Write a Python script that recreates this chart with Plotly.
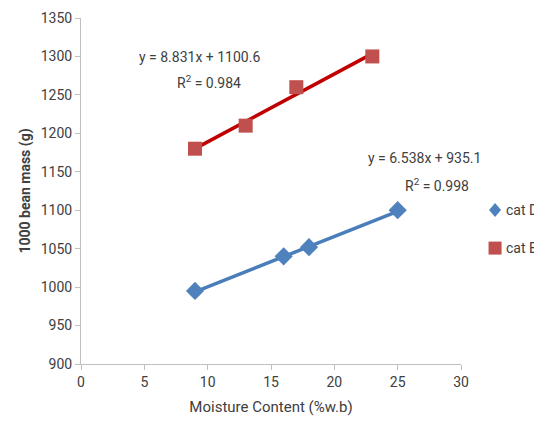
import numpy as np
import plotly.graph_objects as go

# Data
x_D = [9, 16, 18, 25]
y_D = [995, 1040, 1052, 1100]
x_B = [9, 13, 17, 23]
y_B = [1180, 1210, 1260, 1300]

# Trendline coefficients (as shown on chart)
slope_D, intercept_D, r2_D = 6.538, 935.1, 0.998
slope_B, intercept_B, r2_B = 8.831, 1100.6, 0.984

FONT = "Roboto, Noto Sans, sans-serif"
TXT = "#404040"
BLUE = "#4F81BD"
RED = "#C0504D"

fig = go.Figure()

tx_D = np.array([min(x_D), max(x_D)])
tx_B = np.array([min(x_B), max(x_B)])

fig.add_trace(go.Scatter(x=tx_D, y=slope_D * tx_D + intercept_D, mode="lines",
                         line=dict(color="#4A7EBB", width=3.5), showlegend=False, hoverinfo="skip"))
fig.add_trace(go.Scatter(x=tx_B, y=slope_B * tx_B + intercept_B, mode="lines",
                         line=dict(color="#C00000", width=3.5), showlegend=False, hoverinfo="skip"))

fig.add_trace(go.Scatter(x=x_D, y=y_D, mode="markers", name="cat D", showlegend=False,
                         marker=dict(symbol="diamond", size=14, color=BLUE)))
fig.add_trace(go.Scatter(x=x_B, y=y_B, mode="markers", name="cat B", showlegend=False,
                         marker=dict(symbol="square", size=14, color=RED)))

# Trendline equations
fig.add_annotation(x=9.37, y=1299, xref="x", yref="y",
                   text=f"y = {slope_B}x + {intercept_B}", showarrow=False,
                   font=dict(family=FONT, size=14, color=TXT))
fig.add_annotation(x=10.08, y=1267, xref="x", yref="y",
                   text=f"R<sup>2</sup> = {r2_B}", showarrow=False,
                   font=dict(family=FONT, size=14, color=TXT))
fig.add_annotation(x=27.15, y=1168, xref="x", yref="y",
                   text=f"y = {slope_D}x + {intercept_D}", showarrow=False,
                   font=dict(family=FONT, size=14, color=TXT))
fig.add_annotation(x=28.1, y=1133, xref="x", yref="y",
                   text=f"R<sup>2</sup> = {r2_D}", showarrow=False,
                   font=dict(family=FONT, size=14, color=TXT))

# Legend (drawn manually so it does not push the plot margins)
legend_items = [("cat D", BLUE, "diamond", 0.445), ("cat B", RED, "square", 0.335)]
for name, col, sym, ly in legend_items:
    if sym == "diamond":
        path = "M 0 -7 L 6 0 L 0 7 L -6 0 Z"
    else:
        path = "M -6.5 -6.5 L 6.5 -6.5 L 6.5 6.5 L -6.5 6.5 Z"
    fig.add_shape(type="path", xref="paper", yref="paper",
                  xsizemode="pixel", ysizemode="pixel",
                  xanchor=1.0896, yanchor=ly, path=path,
                  fillcolor=col, line=dict(width=0))
    fig.add_annotation(x=1.113, y=ly, xref="paper", yref="paper", xanchor="left",
                       yanchor="middle", text=name, showarrow=False,
                       font=dict(family=FONT, size=14, color=TXT))

# The page body adds an 8px margin; the figure is sized to fit the window.
fig.update_layout(
    width=534, height=428,
    margin=dict(l=73, r=81, t=10, b=72),
    paper_bgcolor="white", plot_bgcolor="white",
    font=dict(family=FONT, size=14, color=TXT),
    showlegend=False,
    xaxis=dict(range=[0, 30], tickvals=[0, 5, 10, 15, 20, 25, 30], showgrid=False,
               showline=True, linecolor="#BFBFBF", linewidth=1, automargin=False,
               ticks="outside", tickcolor="#BFBFBF", ticklen=5, zeroline=False,
               tickfont=dict(family=FONT, size=14, color=TXT),
               title=dict(text="Moisture Content (%w.b)", standoff=12,
                          font=dict(family=FONT, size=15, color=TXT))),
    yaxis=dict(range=[900, 1350], dtick=50, showgrid=False,
               showline=True, linecolor="#BFBFBF", linewidth=1, automargin=False,
               ticks="outside", tickcolor="#BFBFBF", ticklen=5, zeroline=False,
               tickfont=dict(family=FONT, size=14, color=TXT),
               title=dict(text="<b>1000 bean mass (g)</b>", standoff=6,
                          font=dict(family=FONT, size=14, color=TXT))),
)

fig.write_html("out.html")
